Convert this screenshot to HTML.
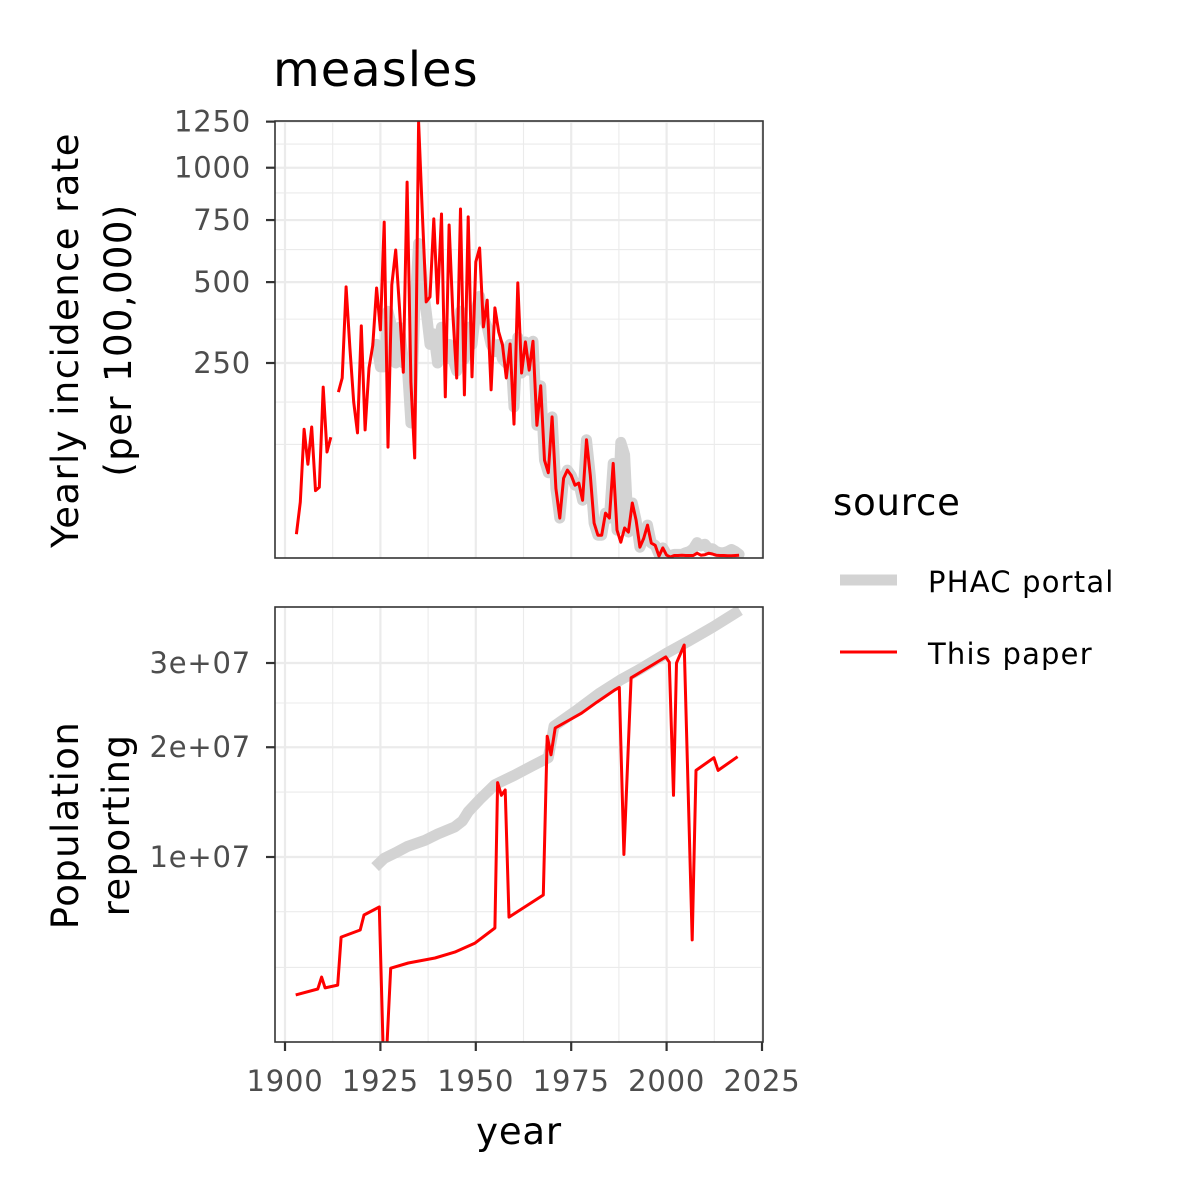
<!DOCTYPE html>
<html><head><meta charset="utf-8"><style>
html,body{margin:0;padding:0;background:#fff;}
svg{display:block;font-family:"DejaVu Sans","Liberation Sans",sans-serif;}
</style></head><body>
<svg id="chart" width="1200" height="1200" viewBox="0 0 1200 1200" xmlns="http://www.w3.org/2000/svg">
<defs>
<clipPath id="clipTop"><rect x="275" y="121" width="488" height="437"/></clipPath>
<clipPath id="clipBot"><rect x="275" y="607" width="488" height="435"/></clipPath>
</defs>
<text x="273" y="86" font-size="48" letter-spacing="1" fill="#000">measles</text>
<g id="gTop"></g>
<g id="gBot"></g>
<text x="519" y="1144" font-size="37" letter-spacing="0.8" text-anchor="middle">year</text>
<text transform="translate(78,340) rotate(-90)" font-size="37" text-anchor="middle" letter-spacing="1.4">Yearly incidence rate</text>
<text transform="translate(131,340) rotate(-90)" font-size="37" text-anchor="middle" letter-spacing="1.4">(per 100,000)</text>
<text transform="translate(78,825) rotate(-90)" font-size="37" text-anchor="middle" letter-spacing="1.4">Population</text>
<text transform="translate(129,825) rotate(-90)" font-size="37" text-anchor="middle" letter-spacing="1.4">reporting</text>
<g>
<text x="833" y="515" font-size="37" letter-spacing="0.8">source</text>
<line x1="840" y1="580" x2="897" y2="580" stroke="#D3D3D3" stroke-width="11"/>
<text x="928" y="592" font-size="29" letter-spacing="1.2">PHAC portal</text>
<line x1="840" y1="652" x2="897" y2="652" stroke="#FF0000" stroke-width="3"/>
<text x="928" y="664" font-size="29" letter-spacing="1.2">This paper</text>
</g>
</svg>
<script>
// ---- data ----
const xTicks = [1900,1925,1950,1975,2000,2025];
const xMinor = [1912.5,1937.5,1962.5,1987.5,2012.5];
const topTicks = [250,500,750,1000,1250];
const topTickLabels = ["250","500","750","1000","1250"];
const topMinor = [1125,875,625,375,160,85];
const botTicks = [1e7,2e7,3e7];
const botTickLabels = ["1e+07","2e+07","3e+07"];
const botMinor = [2.5e7,1.55e7,6.3e6,3.4e6];

const paperYears = [1903,1904,1905,1906,1907,1908,1909,1910,1911,1912,1913,1914,1915,1916,1917,1918,1919,1920,1921,1922,1923,1924,1925,1926,1927,1928,1929,1930,1931,1932,1933,1934,1935,1936,1937,1938,1939,1940,1941,1942,1943,1944,1945,1946,1947,1948,1949,1950,1951,1952,1953,1954,1955,1956,1957,1958,1959,1960,1961,1962,1963,1964,1965,1966,1967,1968,1969,1970,1971,1972,1973,1974,1975,1976,1977,1978,1979,1980,1981,1982,1983,1984,1985,1986,1987,1988,1989,1990,1991,1992,1993,1994,1995,1996,1997,1998,1999,2000,2001,2002,2003,2004,2005,2006,2007,2008,2009,2010,2011,2012,2013,2014,2015,2016,2017,2018,2019];
const paperRate = [3.8,20.7,109,58,113,30,33,192,74,96,null,181,213,483,290,160,103,354,108,237,298,479,342,741,81,490,623,411,227,928,204,66,1248,773,431,448,755,427,777,171,728,388,213,800,175,764,216,576,631,351,437,186,411,336,298,213,301,118,497,225,307,232,309,116,195,63,48,131,32,10.6,42,51,45,35,37,22,92,45,8.1,3.5,3.5,13.4,10.6,59,5.2,1.7,6,4.5,20,9.5,0.8,2.6,7.2,1.5,1.1,0.03,0.7,0.06,0.01,0.05,0.05,0.06,0.05,0.05,0.05,0.17,0.06,0.08,0.17,0.12,0.06,0.05,0.05,0.04,0.04,0.05,0.06];

const phacYears = [1924,1925,1926,1927,1928,1929,1930,1931,1932,1933,1934,1935,1936,1937,1938,1939,1940,1941,1942,1943,1944,1945,1946,1947,1948,1949,1950,1951,1952,1953,1954,1955,1956,1957,1958,1959,1960,1961,1962,1963,1964,1965,1966,1967,1968,1969,1970,1971,1972,1973,1974,1975,1976,1977,1978,1979,1980,1981,1982,1983,1984,1985,1986,1987,1988,1989,1990,1991,1992,1993,1994,1995,1996,1997,1998,1999,2000,2001,2002,2003,2004,2005,2006,2007,2008,2009,2010,2011,2012,2013,2014,2015,2016,2017,2018,2019];
const phacRate = [300,240,240,400,350,250,350,250,250,120,400,650,500,400,300,330,250,350,260,300,260,230,400,260,350,300,400,450,380,350,300,280,300,260,250,300,150,320,225,307,232,309,116,195,63,48,131,32,10.6,42,51,45,35,37,22,92,45,8.1,3.5,3.5,13.4,10.6,59,5.2,88,70,4.5,20,9.5,0.8,2.6,7.2,1.5,1.1,0.1,0.7,0.1,0.05,0.1,0.1,0.1,0.2,0.3,0.6,1.6,1.0,1.3,0.6,0.6,0.3,0.2,0.2,0.3,0.5,0.3,0.1];

const popPaperYears = [1902.8,1908.6,1909.6,1910.5,1913.8,1914.7,1919.7,1920.7,1924.7,1925.8,1926.5,1927.7,1932.3,1939.3,1944.5,1949.8,1955,1955.7,1956.7,1957.7,1958.7,1967.7,1968.7,1969.7,1970.8,1977.7,1981.7,1986.5,1987.6,1988.8,1990.7,1999.8,2000.7,2001.8,2002.6,2004.6,2006.7,2007.7,2012.4,2013.5,2018.6];
const popPaper = [2.30e6,2.52e6,2.99e6,2.56e6,2.67e6,4.87e6,5.25e6,6.1e6,6.58e6,0.5e6,0.5e6,3.37e6,3.6e6,3.83e6,4.11e6,4.56e6,5.36e6,16.4e6,15.2e6,15.7e6,5.98e6,7.34e6,21.2e6,19.2e6,22.1e6,23.8e6,25.1e6,26.6e6,26.9e6,10.2e6,28.1e6,30.8e6,30.1e6,15.2e6,30.0e6,32.4e6,4.72e6,17.6e6,18.9e6,17.6e6,19.0e6];

const popPhacYears = [1923.6,1926,1928.8,1932,1936.7,1940,1944.5,1946.5,1948,1951,1955,1960,1965,1969,1970.5,1976,1982.5,1987.8,1993,2000,2006,2012.2,2016,2019.2];
const popPhac = [9.25e6,9.9e6,10.3e6,10.8e6,11.3e6,11.8e6,12.4e6,12.9e6,13.7e6,14.8e6,16.2e6,17.1e6,18.1e6,18.9e6,22.3e6,24.0e6,26.2e6,27.8e6,29.2e6,31.3e6,33.0e6,34.9e6,36.2e6,37.3e6];

// ---- scales ----
const X = yr => 285 + (yr-1900)*3.816;
const YT = v => 363 - (Math.sqrt(v) - Math.sqrt(250))*12.35;
const YB = v => 857 - (Math.sqrt(v) - Math.sqrt(1e7))*0.0838;
const NS = "http://www.w3.org/2000/svg";
function mk(parent, tag, attrs){ const e=document.createElementNS(NS,tag); for(const k in attrs) e.setAttribute(k,attrs[k]); parent.appendChild(e); return e; }

function panel(g, y0, y1, yScale, ticks, labels, minor, clip, series){
  const bg = mk(g,'rect',{x:275,y:y0,width:488,height:y1-y0,fill:'#fff'});
  
  
  minor.forEach(v=>{ const l=mk(g,'line',{x1:275,x2:763,y1:yScale(v),y2:yScale(v),stroke:'#EBEBEB','stroke-width':1.1});
      });
  xMinor.forEach(v=>{ const l=mk(g,'line',{x1:X(v),x2:X(v),y1:y0,y2:y1,stroke:'#EBEBEB','stroke-width':1.1});
      });
  ticks.forEach((v,i)=>{ const y=yScale(v);
    const l=mk(g,'line',{x1:275,x2:763,y1:y,y2:y,stroke:'#EBEBEB','stroke-width':2.2});
     
    const t=mk(g,'line',{x1:266,x2:275,y1:y,y2:y,stroke:'#333','stroke-width':2.2});
     
    const tx=mk(g,'text',{x:251,y:y+10,'font-size':29,'letter-spacing':0.8,fill:'#4D4D4D','text-anchor':'end'});
     
    tx.textContent=labels[i]; });
  xTicks.forEach(v=>{ const l=mk(g,'line',{x1:X(v),x2:X(v),y1:y0,y2:y1,stroke:'#EBEBEB','stroke-width':2.2});
      });
  series.forEach(s=>{
    let d='', pen=false;
    s.xs.forEach((yr,i)=>{ const v=s.vs[i]; if(v===null){pen=false;return;}
      d += (pen?'L':'M') + X(yr).toFixed(1)+','+yScale(v).toFixed(1); pen=true; });
    const p=mk(g,'path',{d:d,fill:'none',stroke:s.color,'stroke-width':s.w,'stroke-linejoin':'round','stroke-linecap':s.cap,'clip-path':'url(#'+clip+')'});
     
  });
  const b=mk(g,'rect',{x:275,y:y0,width:488,height:y1-y0,fill:'none',stroke:'#333','stroke-width':1.6});
   
}

const gT=document.getElementById('gTop'), gB=document.getElementById('gBot');
panel(gT,121,558,YT,topTicks,topTickLabels,topMinor,'clipTop',[
  {xs:phacYears,vs:phacRate,color:'#D3D3D3',w:11,cap:'round',name:'phac-incidence-line'},
  {xs:paperYears,vs:paperRate,color:'#FF0000',w:3,cap:'butt',name:'paper-incidence-line'}]);
panel(gB,607,1042,YB,botTicks,botTickLabels,botMinor,'clipBot',[
  {xs:popPhacYears,vs:popPhac,color:'#D3D3D3',w:11,cap:'butt',name:'phac-population-line'},
  {xs:popPaperYears,vs:popPaper,color:'#FF0000',w:3,cap:'butt',name:'paper-population-line'}]);

xTicks.forEach(v=>{
  const t=mk(gB,'line',{x1:X(v),x2:X(v),y1:1042,y2:1051,stroke:'#333','stroke-width':2.2});
   
  const tx=mk(gB,'text',{x:X(v),y:1091,'font-size':29,'letter-spacing':0.8,fill:'#4D4D4D','text-anchor':'middle'});
   
  tx.textContent=String(v);
});
</script>
</body></html>
